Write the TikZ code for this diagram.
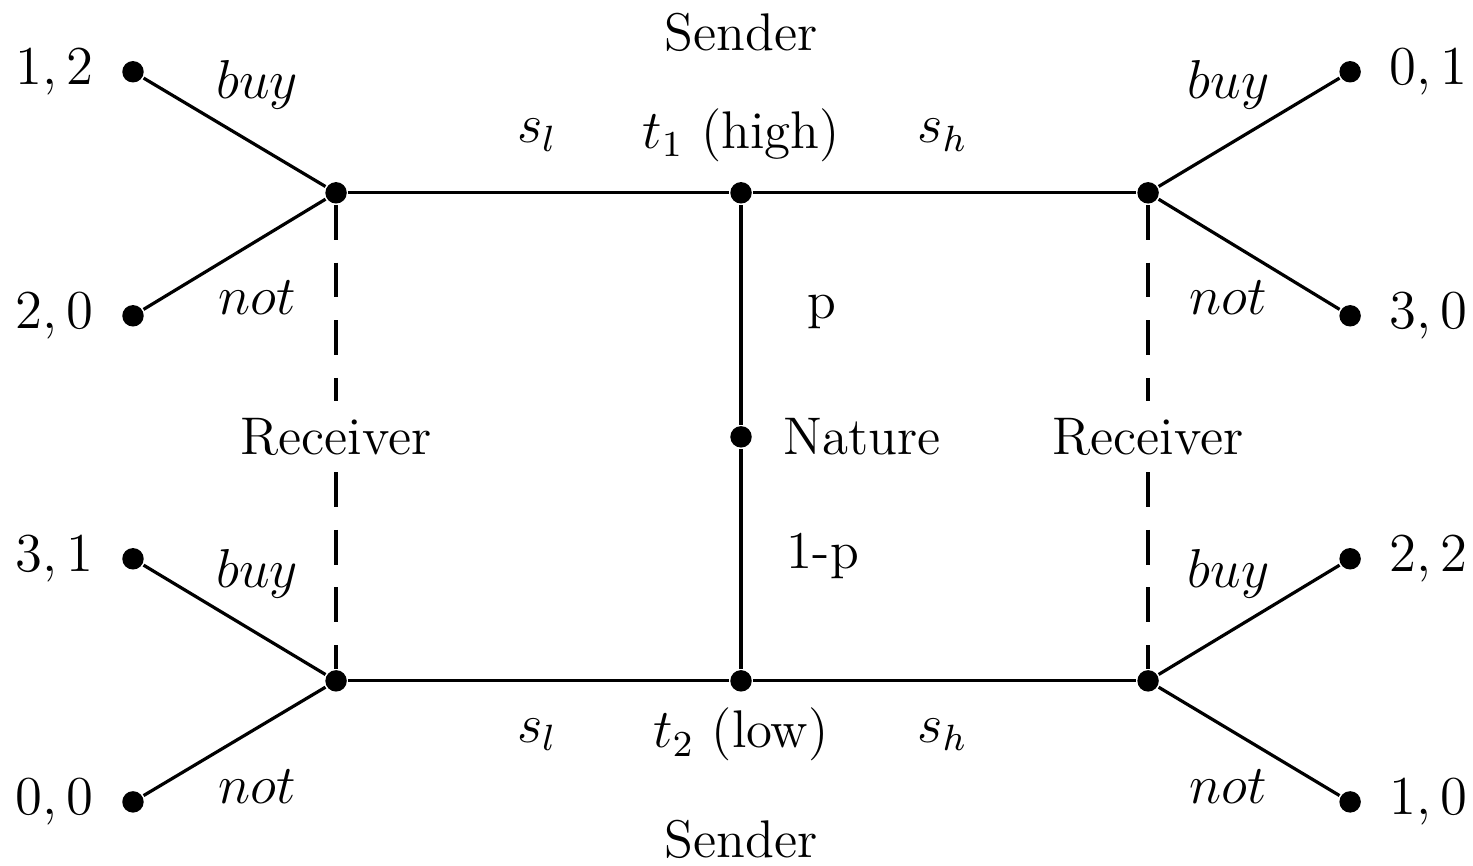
\documentclass[tikz,border=0pt]{standalone}
\usepackage{tikz}
\begin{document}
\begin{tikzpicture}[line width=0.7pt, every node/.style={font=\fontsize{11.6}{14}\selectfont}, dot/.style={circle,fill=black,inner sep=0pt,minimum size=0.165cm}, pay/.style={label distance=0.08cm}, info/.style={dash pattern=on 7.6pt off 5pt}]
			\useasboundingbox (-5.70,-3.30) rectangle (5.63,3.36);
			% decision nodes
			\node[dot](N) at (0, 0) {};
			\node[dot](T1) at (0, 1.877) {};
			\node[dot](T2) at (0, -1.877) {};
			\node[dot](RL1) at (-3.115, 1.877) {};
			\node[dot](RL2) at (-3.115, -1.877) {};
			\node[dot](RR1) at (3.131, 1.877) {};
			\node[dot](RR2) at (3.131, -1.877) {};
			% terminal nodes
			\node[dot,label={[pay]left:$1,2$}](LA) at (-4.677, 2.808) {};
			\node[dot,label={[pay]left:$2,0$}](LB) at (-4.677, 0.931) {};
			\node[dot,label={[pay]left:$3,1$}](LC) at (-4.677, -0.938) {};
			\node[dot,label={[pay]left:$0,0$}](LD) at (-4.677, -2.808) {};
			\node[dot,label={[pay]right:$0,1$}](RA) at (4.685, 2.808) {};
			\node[dot,label={[pay]right:$3,0$}](RB) at (4.685, 0.931) {};
			\node[dot,label={[pay]right:$2,2$}](RC) at (4.685, -0.938) {};
			\node[dot,label={[pay]right:$1,0$}](RD) at (4.685, -2.808) {};
			% texts
			\node(S1) at (0, 3.108) {Sender};
			\node(S2) at (0, -3.10) {Sender};
			\node(H) at (0, 2.32) {$t_1$ (high)};
			\node(L) at (0, -2.29) {$t_2$ (low)};
			\node(sl1) at (-1.57, 2.32) {$s_l$};
			\node(sh1) at (1.55, 2.32) {$s_h$};
			\node(sl2) at (-1.57, -2.29) {$s_l$};
			\node(sh2) at (1.55, -2.29) {$s_h$};
			\node(p) at (0.62, 0.96) {p};
			\node(q) at (0.63, -0.92) {1-p};
			\node[anchor=west](nat) at (0.20, 0) {Nature};
			\node(recL) at (-3.115, 0) {Receiver};
			\node(recR) at (3.131, 0) {Receiver};
			\node(b1) at (-3.72, 2.71) {$buy$};
			\node(n1) at (-3.72, 1.07) {$not$};
			\node(b2) at (-3.72, -1.05) {$buy$};
			\node(n2) at (-3.72, -2.69) {$not$};
			\node(b3) at (3.75, 2.71) {$buy$};
			\node(n3) at (3.75, 1.07) {$not$};
			\node(b4) at (3.75, -1.05) {$buy$};
			\node(n4) at (3.75, -2.69) {$not$};
			% edges
			\draw(T1) -- (N);
			\draw(N) -- (T2);
			\draw(RL1) -- (T1);
			\draw(T1) -- (RR1);
			\draw(RL2) -- (T2);
			\draw(T2) -- (RR2);
			\draw(RL1) -- (LA);
			\draw(RL1) -- (LB);
			\draw(RL2) -- (LC);
			\draw(RL2) -- (LD);
			\draw(RR1) -- (RA);
			\draw(RR1) -- (RB);
			\draw(RR2) -- (RC);
			\draw(RR2) -- (RD);
			% information sets
			\draw[info](RL1) -- (recL);
			\draw[info](recL) -- (RL2);
			\draw[info](RR1) -- (recR);
			\draw[info](recR) -- (RR2);
		\end{tikzpicture}
\end{document}
